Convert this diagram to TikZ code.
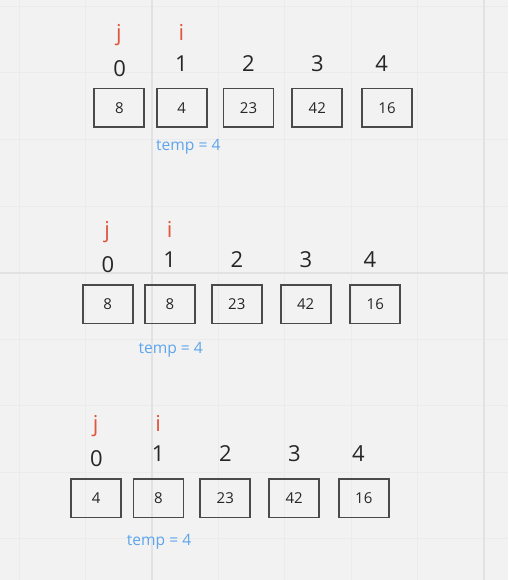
\documentclass[tikz,border=0pt]{standalone}
\usepackage{fontspec}
\setmainfont{Open Sans}
\definecolor{board}{HTML}{F2F2F2}
\definecolor{gridminor}{HTML}{EBEBEB}
\definecolor{gridmajor}{HTML}{E2E2E2}
\definecolor{cellline}{HTML}{4A4A4A}
\definecolor{ptrred}{HTML}{E0553B}
\definecolor{tempblue}{HTML}{5EA5EC}
\tikzset{
  cell/.style={draw=cellline, line width=1.8pt, minimum width=50pt, minimum height=38.8pt,
    inner sep=0pt, font=\fontsize{15}{15}\selectfont, text=black!85},
  idx/.style={anchor=base, inner sep=0pt, font=\fontsize{22}{22}\selectfont, text=black!85},
  ptr/.style={anchor=base, inner sep=0pt, font=\fontsize{22}{22}\selectfont, text=ptrred},
  tempnote/.style={anchor=base west, inner sep=0pt, font=\fontsize{15.6}{15.6}\selectfont, text=tempblue},
}
\begin{document}
\begin{tikzpicture}[x=1pt, y=-1pt]
			% Board window (pixel units, y downwards)
			\def\wmax{508} \def\hmax{580}
			\useasboundingbox (0,0) rectangle (\wmax,\hmax);
			\fill[board] (0,0) rectangle (\wmax,\hmax);
			
			% Faint board grid
			\foreach \x in {19.2,85.6,218.4,284.8,351.2,417.6} {
				\draw[gridminor, line width=1pt] (\x,0) -- (\x,\hmax);
			}
			\foreach \y in {6.6,73,139.4,206.2,339.4,405.8,472.2,538.6} {
				\draw[gridminor, line width=1pt] (0,\y) -- (\wmax,\y);
			}
			% Major grid lines
			\draw[gridmajor, line width=2pt] (152,0) -- (152,\hmax);
			\draw[gridmajor, line width=2pt] (484,0) -- (484,\hmax);
			\draw[gridmajor, line width=2pt] (0,273.3) -- (\wmax,273.3);
			
			% Three steps of the array: cells, indices, pointers j and i, temp
			\foreach \p/\dx/\dy/\va/\vb/\tx/\ty in {1/0/0/8/4/156/150.7, 2/-11.7/196/8/8/138.3/353, 3/-23.2/390/4/8/126.7/545.5} {
				\begin{scope}[shift={(\dx,\dy)}]
					\foreach \k/\bx/\lx/\ly/\v in {0/119.3/119.7/76.7/\va, 1/181.7/181.3/71.7/\vb, 2/248.5/248.5/71.7/23, 3/317.3/317.5/71.7/42, 4/387/381.7/71.7/16} {
						\node[cell] (cell\p-\k) at (\bx,108) {\v};
						\node[idx] (idx\p-\k) at (\lx,\ly) {\k};
					}
					\node[ptr] (j\p) at (118.8,41) {j};
					\node[ptr] (i\p) at (181.3,41) {i};
				\end{scope}
				\node[tempnote] (temp\p) at (\tx,\ty) {temp = 4};
			}
			
\end{tikzpicture}
\end{document}
